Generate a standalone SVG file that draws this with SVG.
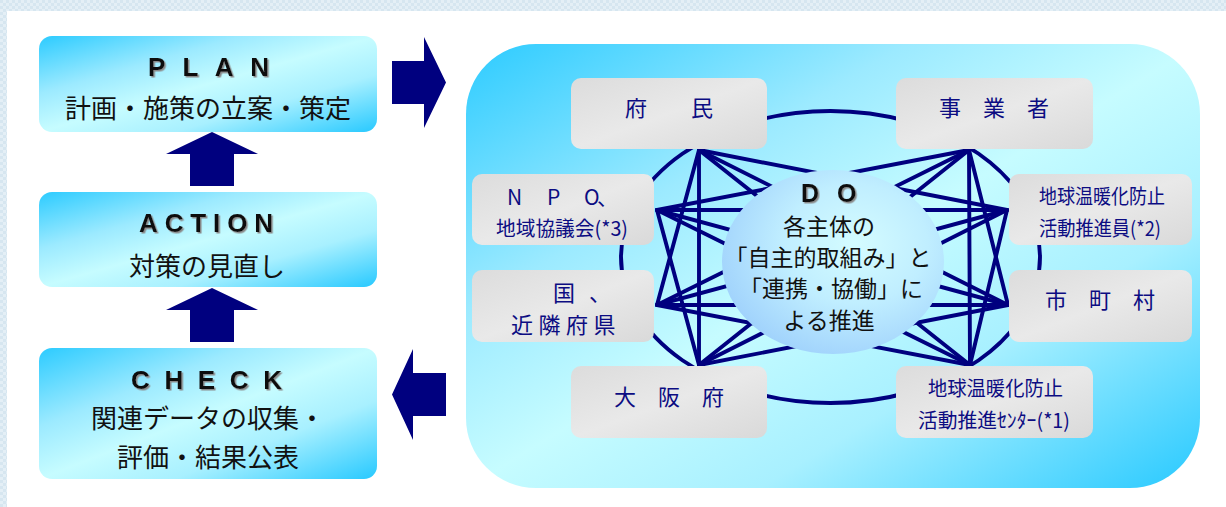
<svg xmlns="http://www.w3.org/2000/svg" width="1226" height="507" viewBox="0 0 1226 507">
<defs>
<style>
.jp{font-family:"Noto Sans CJK JP","Noto Sans CJK SC",sans-serif;}
.hd{font-family:"Liberation Sans",Arial,sans-serif;font-weight:bold;font-size:26px;fill:#111;filter:url(#sh);}
.lt{font-family:"Noto Sans CJK JP",sans-serif;font-size:26px;fill:#111;text-anchor:middle;}
.nd{font-family:"Noto Sans CJK JP",sans-serif;font-size:22px;fill:#0c0c82;}
.sm{font-family:"Noto Sans CJK JP",sans-serif;font-size:20px;fill:#0c0c82;}
.dt{font-family:"Noto Sans CJK JP",sans-serif;font-size:23px;fill:#111;text-anchor:middle;}
.cyan{fill:url(#gCyan);}
.gray{fill:url(#gGray);}
.ln{stroke:#00007f;stroke-width:3.9;fill:none;stroke-linecap:round;}
.blk{fill:#00007f;}
</style>
<linearGradient id="gCyan" x1="0" y1="0" x2="1" y2="1">
<stop offset="0" stop-color="#2ccbff"/>
<stop offset="0.3" stop-color="#9ceaff"/>
<stop offset="0.5" stop-color="#c6fcff"/>
<stop offset="0.7" stop-color="#a8f0ff"/>
<stop offset="1" stop-color="#28c9ff"/>
</linearGradient>
<linearGradient id="gGray" x1="0" y1="0" x2="1" y2="1">
<stop offset="0" stop-color="#dcdcdc"/>
<stop offset="0.5" stop-color="#e9e9e9"/>
<stop offset="1" stop-color="#d9d9d9"/>
</linearGradient>
<radialGradient id="gDo" cx="0.6" cy="0.4" r="0.65">
<stop offset="0" stop-color="#d4fcff"/>
<stop offset="0.5" stop-color="#c0eeff"/>
<stop offset="1" stop-color="#a0d2fc"/>
</radialGradient>
<pattern id="pBg" width="6" height="6" patternUnits="userSpaceOnUse">
<rect width="6" height="6" fill="#e4eff6"/>
<rect width="3" height="3" fill="#d6e6f0"/>
<rect x="3" y="3" width="3" height="3" fill="#d6e6f0"/>
</pattern>
<filter id="sh" x="-10%" y="-20%" width="130%" height="150%">
<feDropShadow dx="1.5" dy="1.5" stdDeviation="0.4" flood-color="#8a8a8a"/>
</filter>
</defs>

<rect width="1226" height="507" fill="url(#pBg)"/>
<rect x="7" y="11" width="1219" height="496" fill="#ffffff"/>

<g id="do-panel">
<rect x="466" y="44" width="734" height="444" rx="70" ry="70" class="cyan"/>
</g>

<g id="connectors">
<ellipse cx="830.5" cy="257" rx="209.5" ry="146" class="ln"/>
<line class="ln" x1="699" y1="150" x2="1007" y2="210"/>
<line class="ln" x1="699" y1="150" x2="1008" y2="305"/>
<line class="ln" x1="699" y1="150" x2="970" y2="365"/>
<line class="ln" x1="699" y1="150" x2="699" y2="365"/>
<line class="ln" x1="699" y1="150" x2="657" y2="305"/>
<line class="ln" x1="969" y1="150" x2="1008" y2="305"/>
<line class="ln" x1="969" y1="150" x2="970" y2="365"/>
<line class="ln" x1="969" y1="150" x2="699" y2="365"/>
<line class="ln" x1="969" y1="150" x2="657" y2="305"/>
<line class="ln" x1="969" y1="150" x2="657" y2="210"/>
<line class="ln" x1="1007" y1="210" x2="970" y2="365"/>
<line class="ln" x1="1007" y1="210" x2="699" y2="365"/>
<line class="ln" x1="1007" y1="210" x2="657" y2="305"/>
<line class="ln" x1="1007" y1="210" x2="657" y2="210"/>
<line class="ln" x1="1008" y1="305" x2="699" y2="365"/>
<line class="ln" x1="1008" y1="305" x2="657" y2="305"/>
<line class="ln" x1="1008" y1="305" x2="657" y2="210"/>
<line class="ln" x1="970" y1="365" x2="657" y2="305"/>
<line class="ln" x1="970" y1="365" x2="657" y2="210"/>
<line class="ln" x1="699" y1="365" x2="657" y2="210"/>
<polygon class="blk" points="166,154 212,132 258,154 234,154 234,186 190,186 190,154"/>
<polygon class="blk" points="166,310 212,288 258,310 234,310 234,342 190,342 190,310"/>
<polygon class="blk" points="392,61 424,61 424,37 446,82.5 424,128 424,104 392,104"/>
<polygon class="blk" points="446,373 413,373 413,349 392,394.5 413,440 413,416 446,416"/>
</g>

<g id="do-center">
<ellipse cx="833" cy="262" rx="111" ry="92" fill="url(#gDo)"/>
<text x="801" y="202" class="hd" style="font-size:25px;letter-spacing:5.5px">D O</text>
<text x="829" y="235" class="dt">各主体の</text>
<text x="828" y="266" class="dt">「自主的取組み」と</text>
<text x="831" y="297" class="dt">「連携・協働」に</text>
<text x="829" y="329" class="dt">よる推進</text>
</g>

<g id="plan">
<rect x="39" y="36" width="338" height="96" rx="13" class="cyan"/>
<text x="148" y="76" class="hd" textLength="121" lengthAdjust="spacing">P L A N</text>
<text x="208" y="118" class="lt">計画・施策の立案・策定</text>
</g>

<g id="action">
<rect x="39" y="192" width="338" height="95" rx="13" class="cyan"/>
<text x="139" y="232" class="hd" textLength="134" lengthAdjust="spacing">ACTION</text>
<text x="207" y="276" class="lt">対策の見直し</text>
</g>

<g id="check">
<rect x="39" y="348" width="338" height="131" rx="13" class="cyan"/>
<text x="131" y="389" class="hd" textLength="151" lengthAdjust="spacing">C H E C K</text>
<text x="208" y="428" class="lt">関連データの収集・</text>
<text x="208" y="467" class="lt">評価・結果公表</text>
</g>

<g id="fumin">
<rect x="571" y="78" width="196" height="71" rx="10" class="gray"/>
<text x="669" y="116" class="nd" text-anchor="middle">府　　民</text>
</g>

<g id="jigyosha">
<rect x="896" y="78" width="197" height="71" rx="10" class="gray"/>
<text x="994" y="116" class="nd" text-anchor="middle">事　業　者</text>
</g>

<g id="npo">
<rect x="472" y="174" width="182" height="71" rx="10" class="gray"/>
<text class="nd" style="font-size:21px" x="507 547 584 597" y="205">NPO、</text>
<text x="496" y="236" class="sm" textLength="132" lengthAdjust="spacingAndGlyphs">地域協議会(*3)</text>
</g>

<g id="suishinin">
<rect x="1009" y="174" width="183" height="71" rx="10" class="gray"/>
<text x="1039" y="204" class="sm" textLength="126" lengthAdjust="spacingAndGlyphs">地球温暖化防止</text>
<text x="1039" y="236" class="sm" textLength="122" lengthAdjust="spacingAndGlyphs">活動推進員(*2)</text>
</g>

<g id="kuni">
<rect x="472" y="270" width="182" height="72" rx="10" class="gray"/>
<text x="553" y="301" class="nd">国<tspan x="589">、</tspan></text>
<text x="511" y="333" class="nd" style="letter-spacing:5.5px">近隣府県</text>
</g>

<g id="shichoson">
<rect x="1009" y="270" width="183" height="72" rx="10" class="gray"/>
<text x="1100" y="308" class="nd" text-anchor="middle">市　町　村</text>
</g>

<g id="osakafu">
<rect x="571" y="366" width="196" height="72" rx="10" class="gray"/>
<text x="669" y="405" class="nd" text-anchor="middle">大　阪　府</text>
</g>

<g id="center">
<rect x="896" y="366" width="197" height="72" rx="10" class="gray"/>
<text x="928" y="396" class="sm" textLength="135" lengthAdjust="spacingAndGlyphs">地球温暖化防止</text>
<text x="918" y="428" class="sm" textLength="152" lengthAdjust="spacingAndGlyphs">活動推進ｾﾝﾀｰ(*1)</text>
</g>
</svg>
